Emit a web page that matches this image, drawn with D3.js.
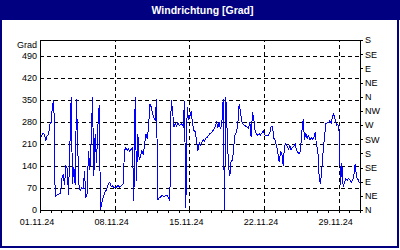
<!DOCTYPE html>
<html>
<head>
<meta charset="utf-8">
<script src="https://cdn.jsdelivr.net/npm/d3@7"></script>
<style>
    html, body { margin: 0; padding: 0; background: #fff; }
    svg { display: block; font-family: "Liberation Sans", Arial, sans-serif; }
    .axis text { font-size: 9px; fill: #000; }
    .axis path, .axis line { stroke: #000; shape-rendering: crispEdges; }
    .grid line { stroke: #000; stroke-dasharray: 4,3; shape-rendering: crispEdges; }
    .grid path { display: none; }
    .series path { fill: none; stroke: #0000ff; stroke-width: 1; shape-rendering: crispEdges; }
</style>
</head>
<body>
<div id="windrichtung"></div>
<script>
// wind direction in degrees, one reading every 3 hours from 01.11.2024 00:00
const startDate = new Date(Date.UTC(2024, 10, 1));
const endDate = new Date(Date.UTC(2024, 11, 1));
const stepHours = 3;
const directionValues = [
    233, 238, 246, 240, 222, 238, 240, 275,
    280, 335, 350, 45, 48, 50, 52, 56,
    100, 115, 80, 140, 135, 50, 200, 360,
    85, 138, 80, 355, 190, 68, 65, 72,
    70, 125, 40, 55, 190, 130, 220, 360,
    110, 244, 150, 265, 335, 3, 25, 42,
    55, 62, 72, 85, 90, 76, 78, 72,
    74, 74, 80, 74, 76, 80, 85, 190,
    200, 190, 195, 188, 195, 200, 30, 360,
    95, 244, 160, 172, 191, 180, 205, 244,
    228, 260, 339, 329, 307, 295, 286, 355,
    32, 42, 42, 48, 45, 45, 48, 48,
    40, 32, 350, 320, 265, 276, 268, 278,
    270, 272, 276, 268, 348, 8, 330, 290,
    297, 315, 278, 254, 250, 223, 190, 215,
    207, 215, 225, 220, 230, 232, 238, 244,
    247, 252, 258, 265, 280, 265, 278, 260,
    276, 355, 0, 360, 250, 138, 111, 160,
    160, 205, 244, 248, 276, 339, 313, 282,
    274, 270, 268, 265, 262, 280, 233, 313,
    290, 250, 244, 238, 244, 240, 246, 254,
    242, 238, 240, 238, 248, 268, 266, 230,
    222, 207, 182, 154, 186, 180, 143, 205,
    212, 205, 196, 205, 192, 201, 205, 212,
    190, 185, 180, 190, 250, 290, 225, 245,
    230, 238, 225, 232, 226, 230, 248, 208,
    192, 105, 85, 130, 190, 233, 276, 278,
    278, 286, 276, 298, 307, 288, 270, 275,
    250, 80, 150, 75, 90, 100, 96, 101,
    98, 90, 95, 111, 148, 106, 100, 88,
    92
];
const gradTicks = [0, 70, 140, 210, 280, 350, 420, 490];
const compassTicks = [0, 45, 90, 135, 180, 225, 270, 315, 360, 405, 450, 495, 540];
const compassLabels = ["N", "NE", "E", "SE", "S", "SW", "W", "NW", "N", "NE", "E", "SE", "S"];
const weekTicks = ["2024-11-01", "2024-11-08", "2024-11-15", "2024-11-22", "2024-11-29"];
const titleText = "Windrichtung [Grad]";
const unitText = "Grad";

(function () {
    "use strict";

    function drawChart(selection) {
        const width = 400;
        const height = 250;
        const plot = { left: 40, right: 360, top: 40, bottom: 210 };

        const svg = selection.append("svg")
            .attr("width", width)
            .attr("height", height);

        svg.append("rect")
            .attr("width", width)
            .attr("height", height)
            .attr("fill", "#fff");

        // title bar
        svg.append("rect")
            .attr("width", width)
            .attr("height", 20)
            .attr("fill", "#000080");

        svg.append("text")
            .attr("x", 202.5)
            .attr("y", 13.5)
            .attr("text-anchor", "middle")
            .attr("fill", "#fff")
            .style("font-size", "10.5px")
            .style("font-weight", "bold")
            .text(titleText);

        svg.append("rect")
            .attr("x", 1)
            .attr("y", 1)
            .attr("width", 397)
            .attr("height", 246)
            .attr("fill", "none")
            .attr("stroke", "#000080")
            .attr("stroke-width", 2);

        const xScale = d3.scaleUtc()
            .domain([startDate, endDate])
            .range([plot.left, plot.right]);

        const yScale = d3.scaleLinear()
            .domain([0, 540])
            .range([plot.bottom, plot.top]);

        const weekDates = weekTicks.map(d => d3.utcParse("%Y-%m-%d")(d));

        // grid
        svg.append("g")
            .attr("class", "grid")
            .attr("transform", `translate(${plot.left},0)`)
            .call(d3.axisLeft(yScale)
                .tickValues(gradTicks.filter(v => v > 0))
                .tickSize(-(plot.right - plot.left))
                .tickFormat(""));

        svg.append("g")
            .attr("class", "grid")
            .attr("transform", `translate(0,${plot.bottom})`)
            .call(d3.axisBottom(xScale)
                .tickValues(weekDates.slice(1))
                .tickSize(-(plot.bottom - plot.top))
                .tickFormat(""));

        // frame
        svg.append("rect")
            .attr("x", plot.left + 0.5)
            .attr("y", plot.top + 0.5)
            .attr("width", plot.right - plot.left)
            .attr("height", plot.bottom - plot.top)
            .attr("fill", "none")
            .attr("stroke", "#000")
            .attr("shape-rendering", "crispEdges");

        // series
        const points = directionValues.map((v, i) => ({
            date: d3.utcHour.offset(startDate, i * stepHours),
            value: v
        }));

        const line = d3.line()
            .x(d => xScale(d.date) + 0.5)
            .y(d => yScale(d.value) + 0.5);

        svg.append("g")
            .attr("class", "series")
            .append("path")
            .attr("d", line(points));

        // axes
        svg.append("g")
            .attr("class", "axis y-axis")
            .attr("transform", `translate(${plot.left},0)`)
            .call(d3.axisLeft(yScale)
                .tickValues(gradTicks)
                .tickSize(0)
                .tickPadding(3));

        svg.append("text")
            .attr("class", "axis")
            .attr("x", plot.left - 3)
            .attr("y", 47.5)
            .attr("text-anchor", "end")
            .style("font-size", "9px")
            .text(unitText);

        svg.append("g")
            .attr("class", "axis compass-axis")
            .attr("transform", `translate(${plot.right},0)`)
            .call(d3.axisRight(yScale)
                .tickValues(compassTicks)
                .tickFormat((d, i) => compassLabels[i])
                .tickSizeInner(3)
                .tickSizeOuter(0)
                .tickPadding(2));

        svg.append("g")
            .attr("class", "axis x-axis")
            .attr("transform", `translate(0,${plot.bottom})`)
            .call(d3.axisBottom(xScale)
                .ticks(d3.utcDay.every(1))
                .tickSizeInner(3)
                .tickSizeOuter(0)
                .tickFormat(""));

        const labelAxis = svg.append("g")
            .attr("class", "axis date-axis")
            .attr("transform", `translate(0,${plot.bottom})`)
            .call(d3.axisBottom(xScale)
                .tickValues(weekDates)
                .tickSize(0)
                .tickPadding(9)
                .tickFormat(d3.utcFormat("%d.%m.%y")));

        labelAxis.select(".domain").remove();
        labelAxis.selectAll(".tick text")
            .attr("dx", -3.5);
    }

    d3.select("#windrichtung")
        .call(drawChart);
}());
</script>
</body>
</html>
